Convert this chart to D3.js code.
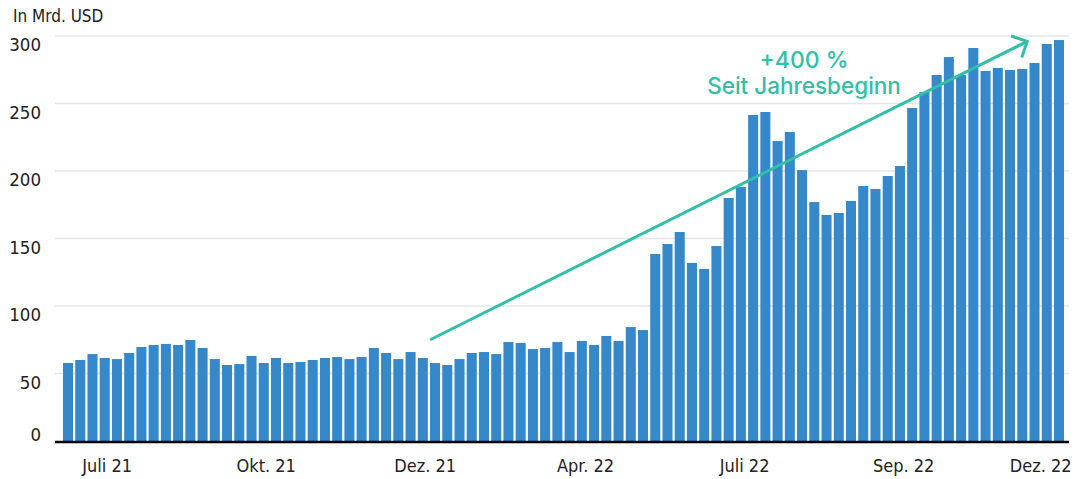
<!DOCTYPE html>
<html>
<head>
<meta charset="utf-8">
<script src="https://cdn.jsdelivr.net/npm/d3@7"></script>
<style>
  html, body { margin: 0; padding: 0; background: #fff; }
  svg { display: block; }
</style>
</head>
<body>
<svg id="chart" width="1080" height="479"></svg>
<script>
// weekly volume, in Mrd. USD
var values = [
  57.8, 60, 64.4, 61.5, 60.7, 65.2, 69.6, 71.1, 71.9, 71.1, 74.8, 68.9, 60.7,
  56.3, 57, 63, 57.8, 61.5, 57.8, 58.5, 60, 61.5, 62.2, 60.7, 62.2,
  68.9, 65.2, 60.7, 65.9, 61.5, 57.8, 56.3, 60.7, 65.2, 65.9, 64.4, 73.3,
  72.6, 68.1, 68.9, 73.3, 65.9, 74.1, 71.1, 77.8, 74.1, 84.4, 82.2,
  138.5, 145.9, 154.8, 131.9, 127.4,
  144.4, 180, 188.1, 241.5, 243.7, 222.2, 228.9, 200.7, 177, 167.4, 168.9,
  177.8, 188.9, 186.7, 196.3, 203.7, 246.7, 258.5, 271.1, 284.4, 271.1,
  291.1, 274.1, 276.3, 274.8, 275.6, 280, 294.1, 297
];
var yTicks = [0, 50, 100, 150, 200, 250, 300];
var monthLabels = ['Juli 21', 'Okt. 21', 'Dez. 21', 'Apr. 22', 'Juli 22', 'Sep. 22', 'Dez. 22'];
var monthIndex = [3.2, 16.2, 29.2, 42.3, 55.3, 68.3, 79.5];
// arrow annotation, [week index, value]
var arrowFrom = [29.6, 75];
var arrowTo = [78.4, 296];
var noteLines = ['+400 %', 'Seit Jahresbeginn'];

(function () {
  "use strict";

  var opts = {
    left: 63, right: 1064, top: 36, bottom: 441,
    gridLeft: 55, gridRight: 1069,
    barColor: '#3589ca',
    noteColor: '#31bfa8',
    font: "'Liberation Sans Narrow', 'DejaVu Sans Condensed', sans-serif",
    noteFont: "Inter, 'Open Sans', sans-serif"
  };

  var svg = d3.select('#chart');

  var x = d3.scaleBand()
    .domain(d3.range(values.length))
    .range([opts.left, opts.right])
    .paddingInner(0.18)
    .paddingOuter(0);

  // centre of bar i, also usable with fractional i
  var xc = d3.scaleLinear()
    .domain([0, 1])
    .range([x(0) + x.bandwidth() / 2, x(1) + x.bandwidth() / 2]);

  var y = d3.scaleLinear()
    .domain([0, 300])
    .range([opts.bottom, opts.top]);

  // gridlines
  svg.append('g')
    .attr('class', 'grid')
    .selectAll('line')
    .data(yTicks.filter(function (d) { return d > 0; }))
    .enter().append('line')
    .attr('x1', opts.gridLeft)
    .attr('x2', opts.gridRight)
    .attr('y1', function (d) { return y(d); })
    .attr('y2', function (d) { return y(d); })
    .attr('stroke', '#e6e6e6')
    .attr('stroke-width', 1.5);

  // y labels: hang below gridline, except 0 which sits on it
  svg.append('g')
    .attr('class', 'y-labels')
    .selectAll('text')
    .data(yTicks)
    .enter().append('text')
    .attr('x', 41)
    .attr('y', function (d) { return d === 0 ? y(d) - 0.5 : y(d) + 15; })
    .attr('text-anchor', 'end')
    .attr('font-family', opts.font)
    .attr('font-size', 18.5)
    .attr('fill', '#222')
    .text(function (d) { return d; });

  svg.append('text')
    .attr('x', 13)
    .attr('y', 22)
    .attr('font-family', opts.font)
    .attr('font-size', 17)
    .attr('fill', '#222')
    .text('In Mrd. USD');

  // bars
  svg.append('g')
    .attr('class', 'bars')
    .selectAll('rect')
    .data(values)
    .enter().append('rect')
    .attr('x', function (d, i) { return x(i); })
    .attr('y', function (d) { return y(d); })
    .attr('width', x.bandwidth())
    .attr('height', function (d) { return y(0) - y(d); })
    .attr('fill', opts.barColor);

  // base axis line
  svg.append('line')
    .attr('x1', opts.gridLeft)
    .attr('x2', opts.gridRight)
    .attr('y1', opts.bottom + 1)
    .attr('y2', opts.bottom + 1)
    .attr('stroke', '#000')
    .attr('stroke-width', 2.6);

  // month labels
  svg.append('g')
    .attr('class', 'x-labels')
    .selectAll('text')
    .data(monthLabels)
    .enter().append('text')
    .attr('x', function (d, i) { return xc(monthIndex[i]); })
    .attr('y', 472)
    .attr('text-anchor', 'middle')
    .attr('font-family', opts.font)
    .attr('font-size', 18)
    .attr('fill', '#222')
    .text(function (d) { return d; });

  // arrow
  var x1 = xc(arrowFrom[0]), y1 = y(arrowFrom[1]),
    x2 = xc(arrowTo[0]), y2 = y(arrowTo[1]),
    ang = Math.atan2(y1 - y2, x1 - x2),
    head = 17, spread = Math.PI / 4;

  var arrow = svg.append('g')
    .attr('class', 'arrow')
    .attr('stroke', opts.noteColor)
    .attr('stroke-width', 3)
    .attr('fill', 'none')
    .attr('stroke-linecap', 'butt');

  arrow.append('line')
    .attr('x1', x1).attr('y1', y1)
    .attr('x2', x2).attr('y2', y2);

  arrow.append('path')
    .attr('stroke-linejoin', 'miter')
    .attr('d', 'M' + (x2 + head * Math.cos(ang - spread)) + ',' + (y2 + head * Math.sin(ang - spread)) +
      'L' + x2 + ',' + y2 +
      'L' + (x2 + head * Math.cos(ang + spread)) + ',' + (y2 + head * Math.sin(ang + spread)));

  // annotation text
  svg.append('g')
    .attr('class', 'note')
    .selectAll('text')
    .data(noteLines)
    .enter().append('text')
    .attr('x', 804)
    .attr('y', function (d, i) { return 68 + i * 26; })
    .attr('text-anchor', 'middle')
    .attr('font-family', opts.noteFont)
    .attr('font-weight', 500)
    .attr('font-size', function (d, i) { return i === 0 ? 23 : 22.5; })
    .attr('fill', opts.noteColor)
    .text(function (d) { return d; });
})();
</script>
</body>
</html>
